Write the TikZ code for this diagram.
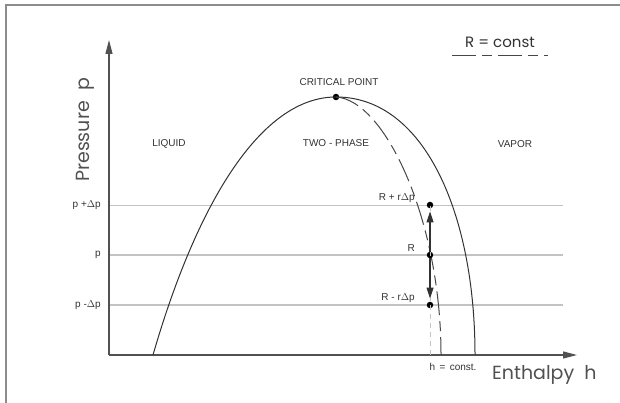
\documentclass[tikz,border=0pt]{standalone}
\usepackage{fontspec}
\setmainfont{Liberation Sans}
\newfontfamily\geofont{Poppins}
\usetikzlibrary{arrows.meta,positioning,calc}
\definecolor{inkgray}{RGB}{50,50,50}
\definecolor{gridgray}{RGB}{195,195,195}
\definecolor{framegray}{RGB}{140,140,140}
\tikzset{
  axisln/.style={-{Triangle[length=14pt,width=7pt]}, line width=1.3pt, inkgray!85},
  domeln/.style={line width=1pt, inkgray},
  rconst/.style={line width=1pt, inkgray!90, dash pattern=on 24pt off 6pt on 10pt off 6pt},
  levelln/.style={line width=1.3pt, gridgray},
  hconst/.style={line width=1pt, gridgray, dash pattern=on 5pt off 4pt},
  stepar/.style={-{Triangle[length=11pt,width=7pt]}, line width=1.1pt, inkgray, shorten >=3pt},
  dot/.style={circle, fill=black, inner sep=0pt, minimum size=6.5pt},
  lbl/.style={font=\fontsize{10}{12}\selectfont, text=inkgray, inner sep=1pt},
  midlbl/.style={font=\geofont\fontsize{15}{18}\selectfont, text=inkgray, inner sep=0pt},
  biglbl/.style={font=\geofont\fontsize{19}{22}\selectfont, text=inkgray!85, inner sep=0pt},
}

\begin{document}
\begin{tikzpicture}[x=1pt, y=1pt]
    \useasboundingbox (0,0) rectangle (620,403);
    % frame (cut off at right and bottom)
    \draw[framegray, line width=1.5pt] (6,0) -- (6,398) -- (620,398);
    % pressure levels
    \foreach \yy/\nm/\lw/\txt in {198/up/0.6pt/{p +$\Delta$p}, 148/mid/1.3pt/p,
                                 98/dn/1.3pt/{p -$\Delta$p}} {
      \coordinate (l\nm) at (109,\yy);
      \coordinate (r\nm) at (563,\yy);
      \draw[levelln, line width=\lw] (l\nm) -- (r\nm);
      \node[lbl, anchor=east] (t\nm) at (102,\yy) {\txt};
    }
    % axes
    \coordinate (orig) at (109,48);
    \coordinate (ytip) at (109,363);
    \coordinate (xtip) at (577,48);
    \draw[axisln] (orig) -- (ytip);
    \draw[axisln] (orig) -- (xtip);
    % saturation dome
    \node[dot] (cp) at (336,306) {};
    \coordinate (lfoot) at (153,48);
    \coordinate (rfoot) at (475,48);
    \coordinate (dfoot) at (441,48);
    \draw[domeln] (cp.center) .. controls (260,306) and (196,197) .. (lfoot);
    \draw[domeln] (cp.center) .. controls (425,306) and (475,188) .. (rfoot);
    % line of constant R
    \draw[rconst] (cp.center) .. controls (385,303) and (441,183) .. (dfoot);
    % constant enthalpy and the pressure steps
    \node[dot] (rup) at (430,198) {};
    \node[dot] (rmid) at (430,148) {};
    \node[dot] (rdn) at (430,98) {};
    \coordinate (hfoot) at (430,48);
    \draw[hconst] (hfoot) -- (rup.center);
    \draw[stepar] (rmid) -- (rup);
    \draw[stepar] (rmid) -- (rdn);
    % labels
    \node[lbl] (crit) at (339,321) {CRITICAL POINT};
    \node[lbl] (twoph) at (336,260) {TWO - PHASE};
    \node[lbl] (liq) at (169,259) {LIQUID};
    \node[lbl] (vap) at (515,259) {VAPOR};
    \node[lbl, anchor=east] (lrup) at (416,205) {R + r$\Delta$p};
    \node[lbl, anchor=east] (lrmid) at (416,155) {R};
    \node[lbl, anchor=east] (lrdn) at (416,105) {R - r$\Delta$p};
    \node[lbl] (hc) at (453,36) {h \,=\, const.};
    \node[biglbl, anchor=west] (hax) at (492,28) {Enthalpy\ \ h};
    \node[biglbl, rotate=90] (pax) at (85,273) {Pressure\ \ p};
    % legend
    \node[midlbl] (leg) at (500,361) {R = const};
    \draw[rconst] (452,347) -- (548,347);
\end{tikzpicture}
\end{document}
